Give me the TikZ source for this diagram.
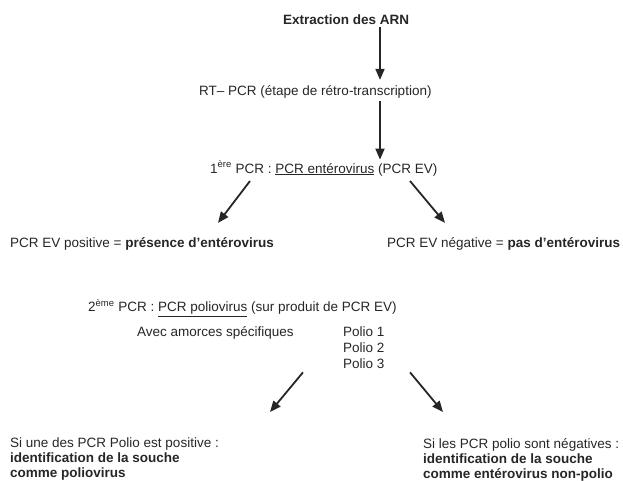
\documentclass[tikz,border=0pt]{standalone}
\usepackage{fontspec}
\setmainfont{Liberation Sans}
\usetikzlibrary{arrows.meta}

\begin{document}
\begin{tikzpicture}[x=1pt,y=-1pt,
                    txt/.style={inner sep=0pt,anchor=base west,text=black!85,
                    font=\fontsize{13.5}{16}\selectfont},
                    blk/.style={txt,anchor=north west,align=left},
                    flow/.style={-{Triangle[length=11pt,width=9pt]},
                    line width=1.8pt,draw=black!85}]
    \useasboundingbox (0,0) rectangle (623,480);

    \node[txt] (arn) at (283,24) {\textbf{Extraction des ARN}};
    \node[txt] (rt) at (199,95) {RT-- PCR (étape de rétro-transcription)};
    \node[txt] (pcrev) at (210,173) {1\textsuperscript{ère} PCR : \underline{PCR entérovirus} (PCR EV)};
    \node[txt] (evpos) at (10,247) {PCR EV positive = \textbf{présence d’entérovirus}};
    \node[txt] (evneg) at (387,247) {PCR EV négative = \textbf{pas d’entérovirus}};
    \node[txt] (pcrpolio) at (88,311.5) {2\textsuperscript{ème} PCR : \underline{PCR poliovirus} (sur produit de PCR EV)};
    \node[txt] (amorces) at (137,336.5) {Avec amorces spécifiques};
    \node[blk] (polio) at (343,327) {Polio 1\\Polio 2\\Polio 3};
    \node[blk,font=\fontsize{13.5}{15}\selectfont] (polpos) at (10,438) {Si une des PCR Polio est positive :\\
        \textbf{identification de la souche}\\\textbf{comme poliovirus}};
    \node[blk,font=\fontsize{13.5}{15}\selectfont] (polneg) at (423,438) {Si les PCR polio sont négatives :\\
        \textbf{identification de la souche}\\\textbf{comme entérovirus non-polio}};

    \draw[flow] ([xshift=97pt,yshift=-3pt]arn.south west) -- ([xshift=181pt,yshift=5pt]rt.north west);
    \draw[flow] ([xshift=181pt,yshift=-3pt]rt.south west) -- ([xshift=170pt,yshift=1pt]pcrev.north west);
    \draw[flow] ([xshift=40pt,yshift=-5pt]pcrev.south west) -- ([xshift=208pt,yshift=14pt]evpos.north west);
    \draw[flow] ([xshift=200pt,yshift=-5pt]pcrev.south west) -- ([xshift=58pt,yshift=14pt]evneg.north west);
    \draw[flow] ([xshift=-40pt,yshift=-3pt]polio.south west) -- ([xshift=260pt,yshift=26pt]polpos.north west);
    \draw[flow] ([xshift=67pt,yshift=-3pt]polio.south west) -- ([xshift=20pt,yshift=26pt]polneg.north west);
\end{tikzpicture}
\end{document}
